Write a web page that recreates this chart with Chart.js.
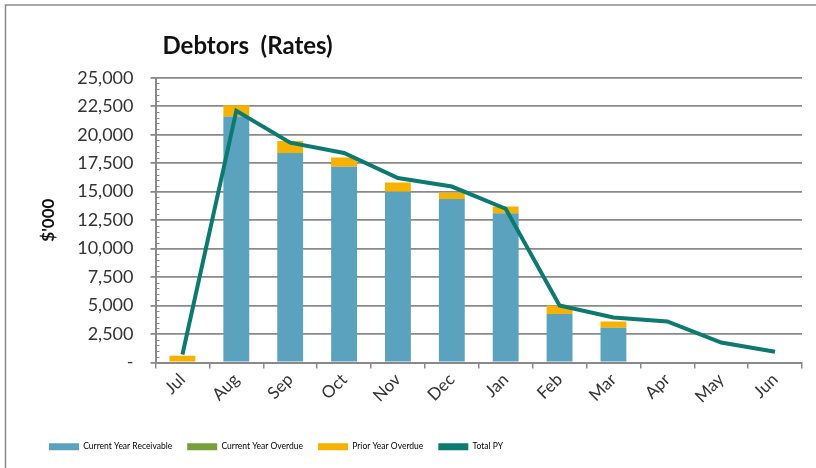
<!DOCTYPE html>
<html>
<head>
<meta charset="utf-8">
<script src="https://cdn.jsdelivr.net/npm/chart.js@4/dist/chart.umd.min.js"></script>
<style>
  html, body { margin: 0; padding: 0; background: #fff; }
  #wrap { width: 816px; height: 468px; }
</style>
</head>
<body>
<div id="wrap"><canvas id="chart" width="816" height="468"></canvas></div>
<script>
const months = ["Jul", "Aug", "Sep", "Oct", "Nov", "Dec", "Jan", "Feb", "Mar", "Apr", "May", "Jun"];
const currentReceivable = [0, 21600, 18400, 17200, 15000, 14350, 13100, 4250, 3050, null, null, null];
const currentOverdue = [0, 0, 0, 0, 0, 0, 0, 0, 0, null, null, null];
const priorOverdue = [600, 1000, 1050, 800, 800, 550, 600, 750, 550, null, null, null];
const totalPY = [700, 22100, 19300, 18400, 16200, 15450, 13500, 5000, 3950, 3600, 1750, 950];

const FONT = "Lato, 'Liberation Sans', sans-serif";
const gridGrey = "#8a8a8a";

// chart frame (cropped at right/bottom like the source picture)
const framePlugin = {
  id: "frame",
  afterLayout(chart) {
    // title sits a little right of the plot's left edge
    chart.titleBlock.left += 7;
    chart.titleBlock.right += 7;
  },
  beforeDraw(chart) {
    const c = chart.ctx;
    c.save();
    c.fillStyle = "#fff";
    c.fillRect(0, 0, chart.width, chart.height);
    c.strokeStyle = "#8a8a8a";
    c.lineWidth = 1.5;
    c.strokeRect(5.5, 5, chart.width + 20, chart.height + 20);
    c.restore();
  },
  afterDraw(chart) {
    // minor ticks on the value axis, every 500
    const y = chart.scales.y;
    const c = chart.ctx;
    c.save();
    c.strokeStyle = gridGrey;
    c.lineWidth = 1;
    for (let v = 0; v <= 25000; v += 500) {
      if (v % 2500 === 0) continue;
      const py = Math.round(y.getPixelForValue(v)) + 0.5;
      c.beginPath();
      c.moveTo(y.right, py);
      c.lineTo(y.right + 4, py);
      c.stroke();
    }
    c.restore();
  }
};

new Chart(document.getElementById("chart"), {
  type: "bar",
  data: {
    labels: months,
    datasets: [
      { label: "Current Year Receivable", data: currentReceivable, backgroundColor: "#5ba2bf", order: 1 },
      { label: "Current Year Overdue", data: currentOverdue, backgroundColor: "#77a03b", order: 1 },
      { label: "Prior Year Overdue", data: priorOverdue, backgroundColor: "#f7b200", order: 1 },
      {
        type: "line", label: "Total PY", data: totalPY,
        borderColor: "#0c7a70", backgroundColor: "#0c7a70",
        borderWidth: 4, pointRadius: 0, tension: 0, order: 0
      }
    ]
  },
  options: {
    responsive: false,
    animation: false,
    layout: { padding: { left: 34, right: 14, top: 0, bottom: 7 } },
    datasets: { bar: { categoryPercentage: 1, barPercentage: 0.48 } },
    plugins: {
      title: {
        display: true,
        text: "Debtors  (Rates)",
        align: "start",
        fullSize: false,
        color: "#111",
        font: { family: FONT, size: 24, weight: "bold" },
        padding: { top: 32, bottom: 17 }
      },
      legend: {
        position: "bottom",
        align: "start",
        labels: {
          boxWidth: 30,
          boxHeight: 7,
          padding: 15,
          color: "#333",
          font: { family: FONT, size: 8.5 },
          sort: (a, b) => a.datasetIndex - b.datasetIndex,
          generateLabels(chart) {
            return chart.data.datasets.map((ds, i) => ({
              text: ds.label,
              fillStyle: ds.backgroundColor,
              strokeStyle: ds.backgroundColor,
              lineWidth: 0,
              hidden: false,
              datasetIndex: i
            }));
          }
        }
      },
      tooltip: { enabled: false }
    },
    scales: {
      x: {
        stacked: true,
        offset: true,
        afterFit(scale) { scale.height = 65; },
        grid: { offset: true, drawOnChartArea: false, drawTicks: true, tickLength: 6, color: gridGrey, lineWidth: 1.5 },
        border: { color: gridGrey, width: 2 },
        ticks: {
          minRotation: 45, maxRotation: 45, padding: 1,
          color: "#333", font: { family: FONT, size: 17 }
        }
      },
      y: {
        stacked: true,
        min: 0, max: 25000,
        afterFit(scale) { scale.width = 121.5; },
        grid: { color: gridGrey, lineWidth: 1.8, tickLength: 5 },
        border: { color: gridGrey, width: 2 },
        ticks: {
          stepSize: 2500, padding: 17,
          color: "#333", font: { family: FONT, size: 18 },
          callback: v => v === 0 ? "-" : v.toLocaleString("en-US")
        },
        title: {
          display: true, text: "$'000",
          color: "#111", font: { family: FONT, size: 17, weight: "bold" },
          padding: { top: 4, bottom: 0 }
        }
      }
    }
  },
  plugins: [framePlugin]
});
</script>
</body>
</html>
